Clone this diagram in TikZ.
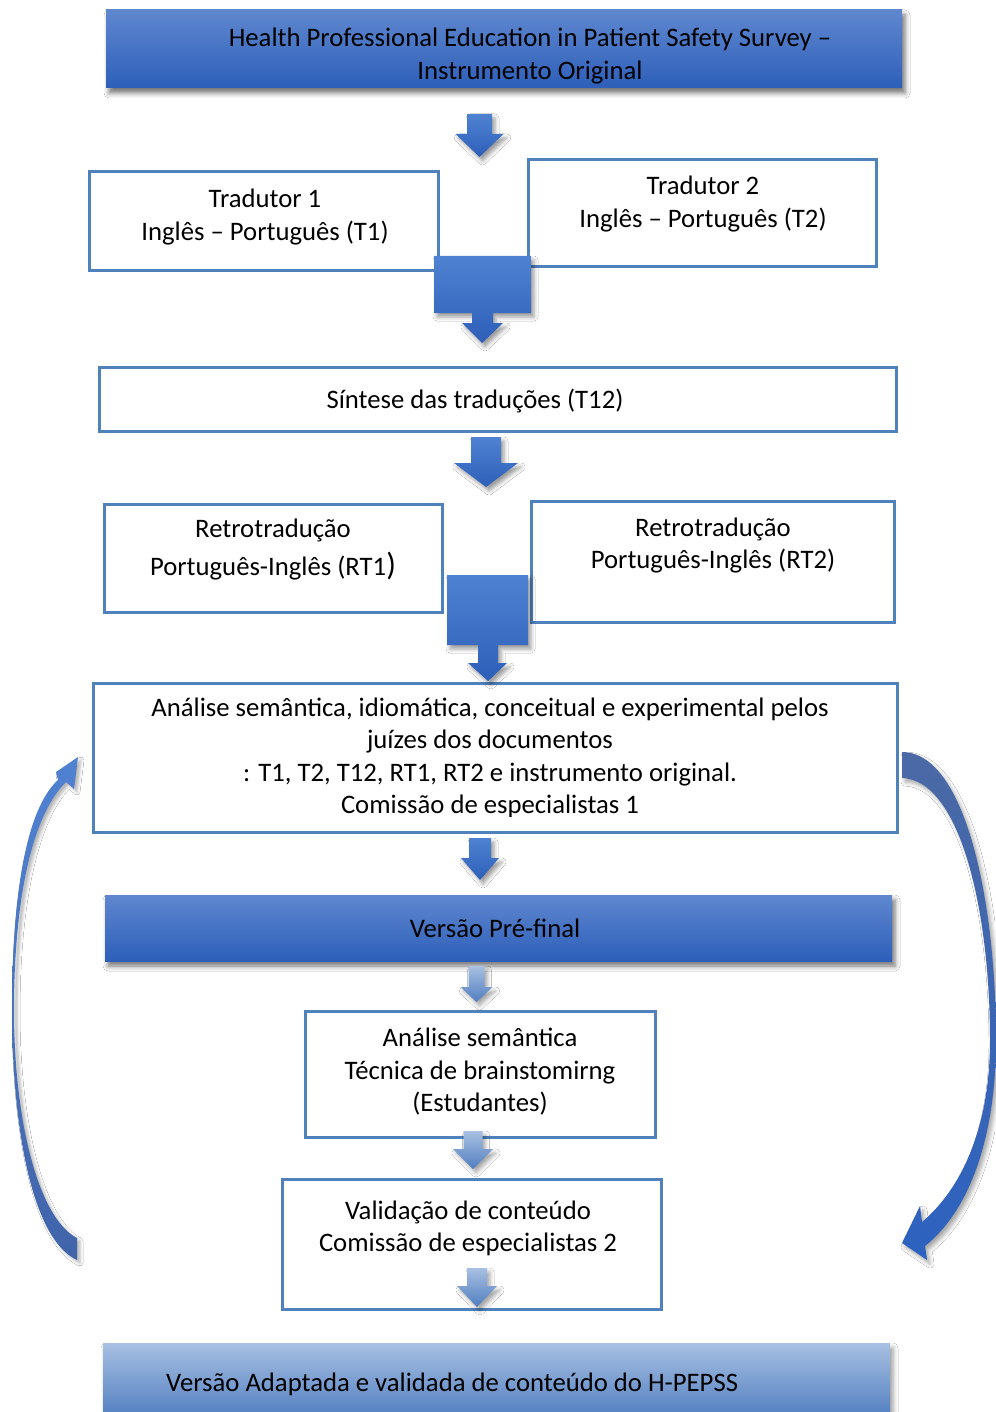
\documentclass[tikz,border=0pt]{standalone}
\usepackage{fontspec}
\setmainfont{Carlito}
\usetikzlibrary{shadows.blur}
\definecolor{bord}{RGB}{79,129,189}
\definecolor{gtop}{RGB}{95,135,207}
\definecolor{gbot}{RGB}{45,95,185}
\definecolor{ltop}{RGB}{168,192,226}
\definecolor{lbot}{RGB}{80,126,192}
\definecolor{atop}{RGB}{80,130,210}
\definecolor{abot}{RGB}{45,95,185}
\tikzset{
  x=1pt,y=-1pt,
  wbox/.style={draw=bord,line width=3pt,fill=white,inner sep=0pt},
  gbox/.style={top color=gtop,bottom color=gbot,inner sep=0pt,
     blur shadow={shadow xshift=3pt,shadow yshift=-5pt,shadow blur radius=5pt,shadow opacity=55}},
  txt/.style={align=center,inner sep=0pt,font=\fontsize{26.7}{32.5}\selectfont},
  barrow/.style={top color=atop,bottom color=abot,
     blur shadow={shadow xshift=3pt,shadow yshift=-4pt,shadow blur radius=4pt,shadow opacity=40}},
  larrow/.style={top color=ltop,bottom color=lbot,
     blur shadow={shadow xshift=3pt,shadow yshift=-4pt,shadow blur radius=4pt,shadow opacity=35}},
}
\newcommand\blockdown[7]{%
  \path[#1] ({#2-#4},#3) -- ({#2+#4},#3) -- ({#2+#4},#5) -- ({#2+#6},#5) -- (#2,#7)
    -- ({#2-#6},#5) -- ({#2-#4},#5) -- cycle;}
\begin{document}
\begin{tikzpicture}
\useasboundingbox[fill=white] (0,0) rectangle (995,1412);

% top box
\node[gbox,minimum width=796pt,minimum height=78pt] (top) at (504,49) {};
\node[txt] (toptxt) at (530,56) {Health Professional Education in Patient Safety Survey --\\Instrumento Original};

% translators
\node[wbox,minimum width=349pt,minimum height=99pt] (t1) at (264,221) {};
\node[txt] (t1txt) at (265,217) {Tradutor 1\\Inglês -- Português (T1)};
\node[wbox,minimum width=348pt,minimum height=107pt] (t2) at (702.5,213) {};
\node[txt] (t2txt) at (703,204) {Tradutor 2\\Inglês -- Português (T2)};

% synthesis
\node[wbox,minimum width=797pt,minimum height=64pt] (t12) at (498,399.5) {};
\node[txt] (t12txt) at (475,401) {Síntese das traduções (T12)};

% back translations
\node[wbox,minimum width=338pt,minimum height=108pt] (rt1) at (273.5,558.5) {};
\node[txt,font=\fontsize{26.7}{38}\selectfont] (rt1txt) at (273,550) {Retrotradução\\Português-Inglês (RT1{\fontsize{32}{38}\selectfont)}};
\node[wbox,minimum width=363pt,minimum height=121pt] (rt2) at (713,562) {};
\node[txt] (rt2txt) at (713,545.5) {Retrotradução\\Português-Inglês (RT2)};

% analysis
\node[wbox,minimum width=804pt,minimum height=149pt] (an) at (495.5,758) {};
\begin{scope}
\clip (90,690) rectangle (900,816);
\node[txt] (antxt) at (490,758) {Análise semântica, idiomática, conceitual e experimental pelos\\juízes dos documentos\\: T1, T2, T12, RT1, RT2 e instrumento original.\\Comissão de especialistas 1};
\end{scope}

% pre-final
\node[gbox,minimum width=787pt,minimum height=66pt] (pre) at (498.5,928) {};
\node[txt] (pretxt) at (495,928) {Versão Pré-final};

% semantic analysis students
\node[wbox,minimum width=350pt,minimum height=126pt] (sem) at (480.5,1074.5) {};
\node[txt] (semtxt) at (480,1072) {Análise semântica\\Técnica de brainstomirng\\(Estudantes)};

% content validation
\node[wbox,minimum width=379pt,minimum height=130pt] (val) at (472,1244.5) {};
\node[txt] (valtxt) at (468,1228.5) {Validação de conteúdo\\Comissão de especialistas 2};

% bottom box
\path[top color=ltop,bottom color=lbot,
  blur shadow={shadow xshift=3pt,shadow yshift=-5pt,shadow blur radius=5pt,shadow opacity=40}]
  (103,1343) rectangle (890,1418);
\node[txt,anchor=west] (fintxt) at (166,1384) {Versão Adaptada e validada de conteúdo do H-PEPSS};

% block arrows
\blockdown{barrow}{479.5}{114}{12.5}{134}{24}{157}
\path[barrow] (434,256) -- (531,256) -- (531,313) -- (493,313) -- (493,323) -- (503,323)
  -- (482,343) -- (462,323) -- (472,323) -- (472,313) -- (434,313) -- cycle;
\blockdown{barrow}{486}{437}{15}{463}{32}{487}
\path[barrow] (447,575) -- (528,575) -- (528,645) -- (498,645) -- (498,663) -- (507,663)
  -- (488,681) -- (468,663) -- (478,663) -- (478,645) -- (447,645) -- cycle;
\blockdown{barrow}{480}{838}{11}{858}{19}{880}
\blockdown{larrow}{476.5}{966}{8}{987}{16}{1002}
\blockdown{larrow}{473}{1131}{9.5}{1149}{20}{1169}
\blockdown{larrow}{477}{1268}{10}{1286}{20}{1307}

% left curved arrow
\path[top color=atop,middle color={rgb,255:red,170;green,195;blue,235},bottom color={rgb,255:red,65;green,100;blue,170},
  blur shadow={shadow xshift=3pt,shadow yshift=-3pt,shadow blur radius=3pt,shadow opacity=30}]
  (77,1260) .. controls (30,1238) and (12,1120) .. (12,1010)
  .. controls (12,900) and (25,810) .. (58,780)
  -- (56,772) -- (78,757) -- (74,789) -- (66,782)
  .. controls (32,815) and (14,900) .. (14,1010)
  .. controls (14,1120) and (38,1218) .. (77,1238) -- cycle;

% right curved arrow
\path[top color={rgb,255:red,75;green,105;blue,165},bottom color={rgb,255:red,45;green,98;blue,192},
  blur shadow={shadow xshift=3pt,shadow yshift=-4pt,shadow blur radius=4pt,shadow opacity=35}]
  (902,752) .. controls (965,752) and (996,900) .. (996,1040)
  .. controls (996,1140) and (968,1212) .. (925,1246)
  -- (927,1260) -- (902,1243) -- (920,1206) -- (922,1222)
  .. controls (960,1190) and (990,1130) .. (990,1040)
  .. controls (990,910) and (960,780) .. (902,778) -- cycle;
\end{tikzpicture}
\end{document}
